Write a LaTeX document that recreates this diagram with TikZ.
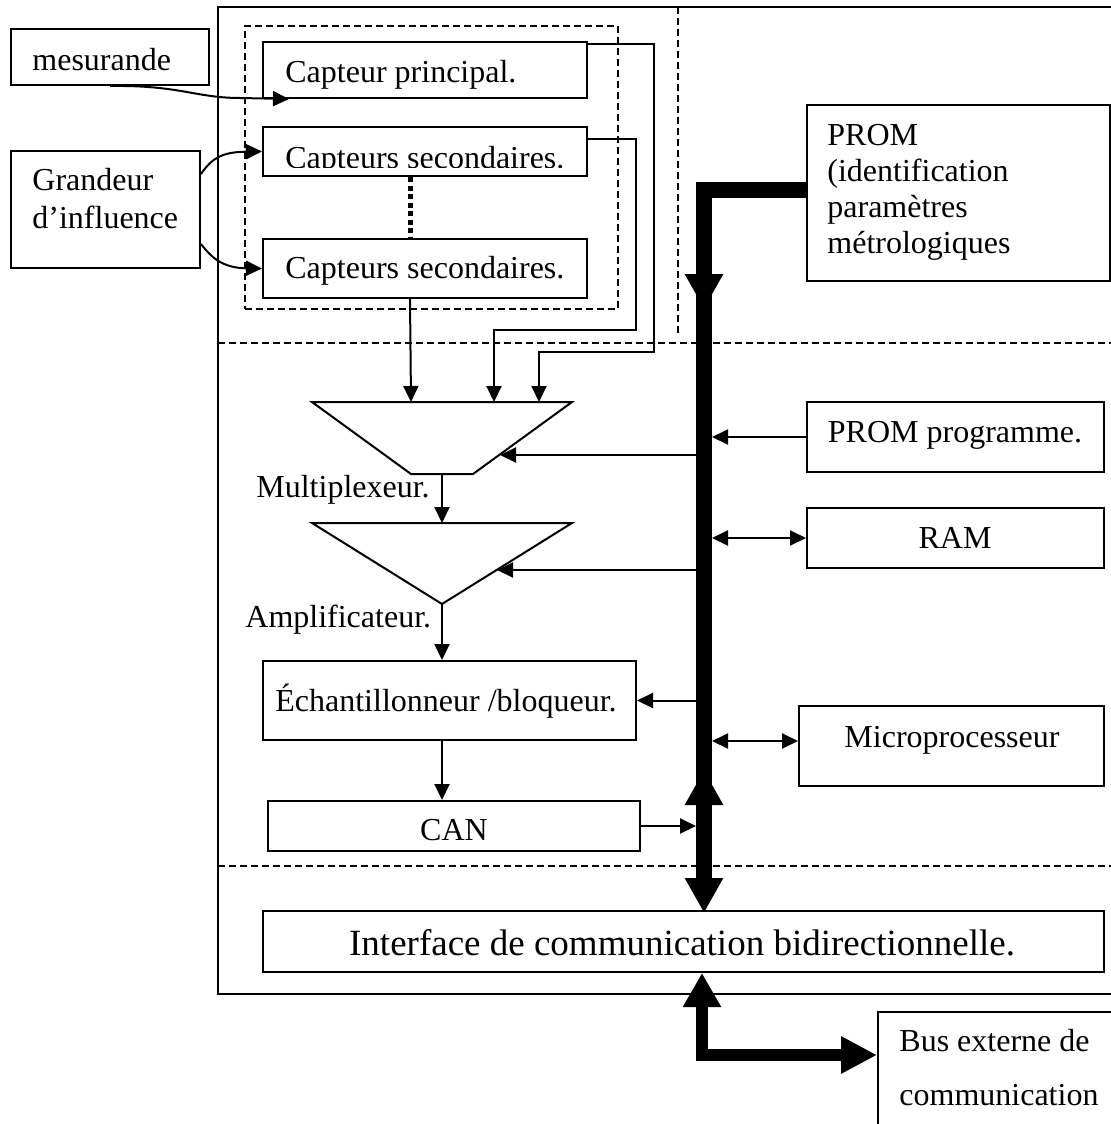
\documentclass[tikz,border=0pt]{standalone}
\usepackage{fontspec}
\setmainfont{Liberation Serif}
\usetikzlibrary{arrows.meta,fit,calc}
\newcommand\txtsize{\fontsize{16}{18}\selectfont}
\newcommand\bigtxtsize{\fontsize{18.5}{21}\selectfont}

\begin{document}
\begin{tikzpicture}[x=0.5pt,y=-0.5pt,
  box/.style={draw,line width=1pt,inner sep=0pt,rectangle},
  grp/.style={draw,line width=0.75pt,dash pattern=on 3.5pt off 2pt,inner sep=0pt,rectangle},
  sep/.style={line width=0.75pt,dash pattern=on 3.5pt off 2pt},
  lbl/.style={inner sep=0pt,font=\txtsize},
  sig/.style={line width=1pt,-{Triangle[length=8pt,width=7.5pt]}},
  sig2/.style={line width=1pt,{Triangle[length=8pt,width=7.5pt]}-{Triangle[length=8pt,width=7.5pt]}},
  bus/.style={line width=7.8pt,line join=miter},
  busend/.style={-{Triangle[length=17.5pt,width=18pt]}},
  busboth/.style={{Triangle[length=17.5pt,width=18pt]}-{Triangle[length=17.5pt,width=18pt]}},
  xbus/.style={line width=5.75pt,line join=miter,
    {Triangle[length=17pt,width=18pt]}-{Triangle[length=18pt,width=17.5pt]}}
]
\useasboundingbox (0,0) rectangle (1111,1124);

% zone separators
\draw[sep] (678,7) -- (678,337);
\draw[sep] (218,343) -- (1111,343);
\draw[sep] (218,866) -- (1111,866);

% sensor frame
\node[box,fit={(218,7) (1130,994)}] (frame) {};

% sensing group
\node[grp,fit={(245,26) (618,309)}] (sensors) {};

% inputs
\node[box,fit={(11,29) (209,85)}] (mes) {};
\node[lbl,anchor=base west] (mes-t) at (32,70) {mesurande};
\node[box,fit={(11,151) (200,268)}] (gr) {};
\node[lbl,anchor=base west] (gr-t1) at (32,190) {Grandeur};
\node[lbl,anchor=base west] (gr-t2) at (32,228) {d’influence};

% sensors
\node[box,fit={(263,42) (587,98)}] (cp) {};
\node[lbl,anchor=base west] (cp-t) at (285,82) {Capteur principal.};
\node[box,fit={(263,127) (587,176)}] (cs1) {};
\begin{scope}
  \clip (263,100) rectangle (587,167);
  \node[lbl,anchor=base west] (cs1-t) at (285,168) {Capteurs secondaires.};
\end{scope}
\node[box,fit={(263,239) (587,298)}] (cs2) {};
\node[lbl,anchor=base west] (cs2-t) at (285,278) {Capteurs secondaires.};
\draw[line width=2.5pt,dash pattern=on 2.5pt off 1.75pt]
  ($(cs1.south west)+(148,0)$) -- ($(cs2.north west)+(148,0)$);

% multiplexer and amplifier
\coordinate (mux-tl) at (312,402);
\coordinate (mux-tr) at (572,402);
\coordinate (mux-br) at (473,474);
\coordinate (mux-bl) at (411,474);
\draw[line width=1pt] (mux-tl) -- (mux-tr) -- (mux-br) -- (mux-bl) -- cycle;
\coordinate (amp-tl) at (312,523);
\coordinate (amp-tr) at (572,523);
\coordinate (amp-out) at (442,604);
\draw[line width=1pt] (amp-tl) -- (amp-tr) -- (amp-out) -- cycle;
\coordinate (mux-in1) at (411,402);
\coordinate (mux-in2) at (494,402);
\coordinate (mux-in3) at (539,402);
\coordinate (mux-out) at (442,474);
\coordinate (amp-in) at (442,523);
\coordinate (mux-ctl) at (500,455);
\coordinate (amp-ctl) at (497,570);
\node[lbl,anchor=base west] (mux-t) at (256,497) {Multiplexeur.};
\node[lbl,anchor=base west] (amp-t) at (245,627) {Amplificateur.};

% conversion chain
\node[box,fit={(263,661) (636,740)}] (ech) {};
\node[lbl,anchor=base] (ech-t) at (446,711) {Échantillonneur /bloqueur.};
\node[box,fit={(268,801) (640,851)}] (can) {};
\node[lbl,anchor=base] (can-t) at (454,840) {CAN};
\node[box,fit={(263,911) (1104,972)}] (iface) {};
\node[inner sep=0pt,font=\bigtxtsize,anchor=base] (iface-t) at (682,955)
  {Interface de communication bidirectionnelle.};

% memories and processor
\node[box,fit={(807,105) (1110,281)}] (prom) {};
\node[lbl,anchor=base west] (prom-t1) at (827,145) {PROM};
\node[lbl,anchor=base west] (prom-t2) at (827,181) {(identification};
\node[lbl,anchor=base west] (prom-t3) at (827,217) {paramètres};
\node[lbl,anchor=base west] (prom-t4) at (827,253) {métrologiques};
\node[box,fit={(807,402) (1104,472)}] (promp) {};
\node[lbl,anchor=base] (promp-t) at (955,442) {PROM programme.};
\node[box,fit={(807,508) (1104,568)}] (ram) {};
\node[lbl,anchor=base] (ram-t) at (955,548) {RAM};
\node[box,fit={(799,706) (1104,786)}] (micro) {};
\node[lbl,anchor=base] (micro-t) at (952,747) {Microprocesseur};

% external bus box
\node[box,fit={(878,1012) (1140,1150)}] (busx) {};
\node[lbl,anchor=base west] (busx-t1) at (899,1051) {Bus externe de};
\node[lbl,anchor=base west] (busx-t2) at (899,1105) {communication};

% inputs to sensors
\draw[sig] (mes.south) .. controls (180,85) and (196,98) .. (240,98) -- ($(cp.south west)+(27,0)$);
\draw[sig] ($(gr.north east)+(0,24)$) .. controls (212,158) and (222,152) .. (cs1.west);
\draw[sig] ($(gr.south east)+(0,-25)$) .. controls (211,257) and (222,268) .. (cs2.west);

% sensor outputs to multiplexer
\draw[sig] ($(cp.north east)+(0,3)$) -| (654,352) -| (mux-in3);
\draw[sig] ($(cs1.north east)+(0,13)$) -| (636,330) -| (mux-in2);
\draw[sig] ($(cs2.south west)+(148,0)$) -- (mux-in1);

% signal chain
\draw[sig] (mux-out) -- (amp-in);
\draw[sig] (amp-out) -- (ech.north -| amp-out);
\draw[sig] (ech.south -| amp-out) -- (can.north -| amp-out);

% bus taps
\coordinate (busL) at (696,0);
\coordinate (busR) at (712,0);
\coordinate (busC) at (704,0);
\draw[sig] (busL |- mux-ctl) -- (mux-ctl);
\draw[sig] (busL |- amp-ctl) -- (amp-ctl);
\draw[sig] (busL |- ech.east) -- (ech.east);
\draw[sig] (can.east) -- (can.east -| busL);
\draw[sig] (promp.west) -- (promp.west -| busR);
\draw[sig2] (ram.west -| busR) -- (ram.west);
\coordinate (micro-in) at ($(micro.west)+(0,-5)$);
\draw[sig2] (micro-in -| busR) -- (micro-in);

% internal bus
\coordinate (bus-drop) at (704,309);
\coordinate (bus-rise) at (704,770);
\draw[bus,busend] ($(prom.west)+(0,-3)$) -| (bus-drop);
\draw[bus] (704,295) -- (704,812);
\draw[bus,busboth] (bus-rise) -- ($(iface.north -| busC)+(0,3)$);

% external bus link
\coordinate (xb) at (702,1055);
\draw[xbus] (iface.south -| xb) |- (busx.west |- xb);
\end{tikzpicture}
\end{document}
